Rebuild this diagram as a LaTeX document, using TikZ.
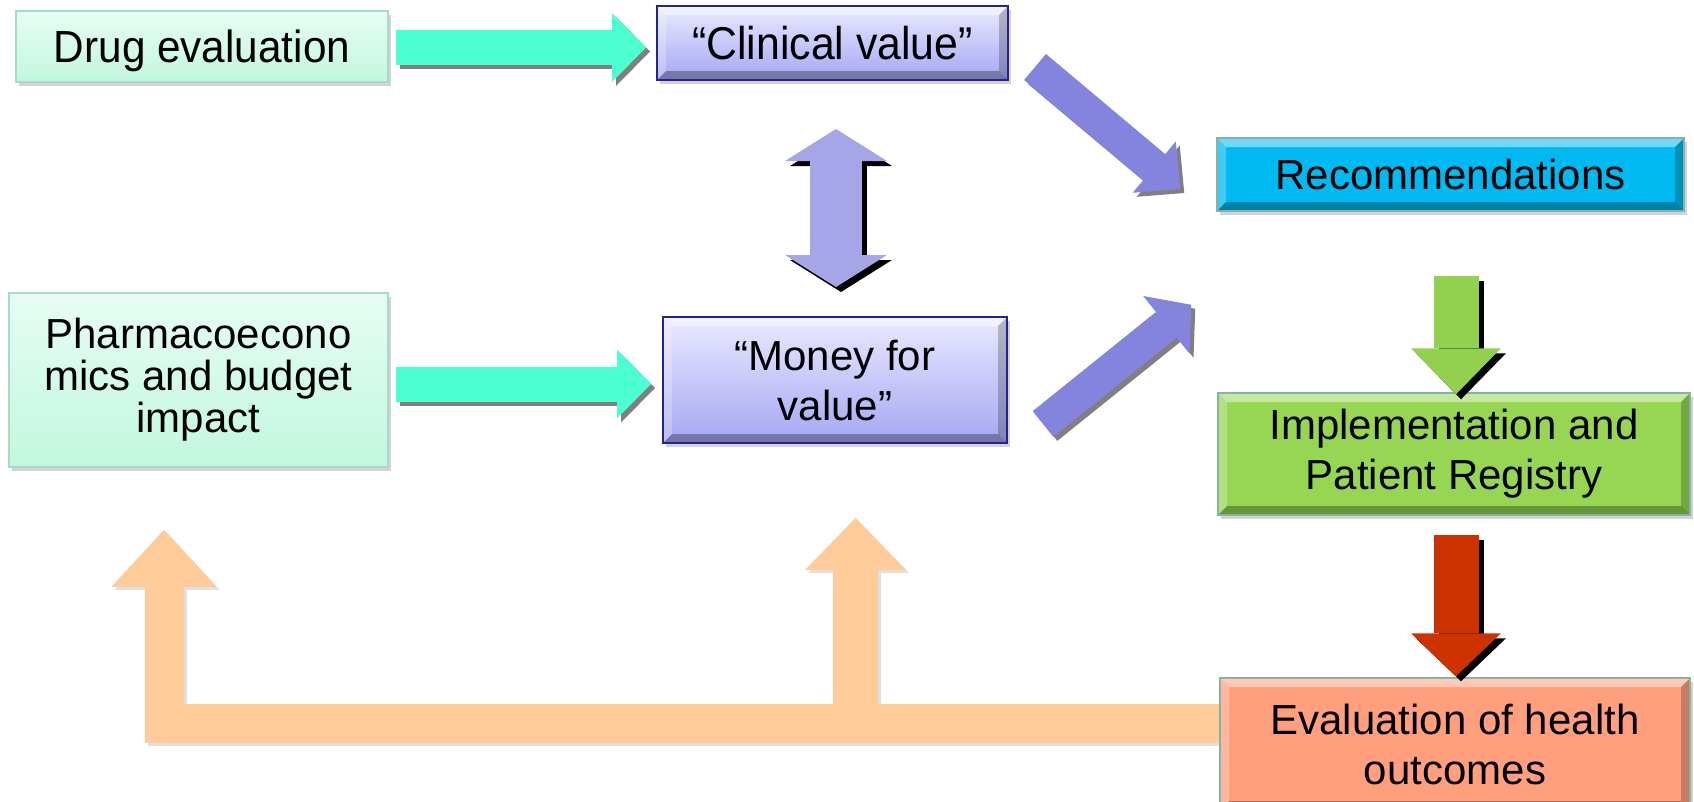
\documentclass[tikz,border=0pt]{standalone}
\usepackage{fontspec}
\setmainfont{Liberation Sans}
\usetikzlibrary{arrows.meta,shadows}

\definecolor{mintTop}{HTML}{E6FDF4}
\definecolor{mintBot}{HTML}{C2F7DF}
\definecolor{mintLine}{HTML}{A6DCC6}
\definecolor{lilacTop}{HTML}{EAEAFF}
\definecolor{lilacBot}{HTML}{A6A6F4}
\definecolor{lilacLine}{HTML}{24248C}
\definecolor{recFill}{HTML}{00B9F1}
\definecolor{implFill}{HTML}{97D653}
\definecolor{evalFill}{HTML}{FF9F7E}
\definecolor{boxLine}{HTML}{86B4A4}
\definecolor{tealArrow}{HTML}{4BFFD1}
\definecolor{violetArrow}{HTML}{8484DE}
\definecolor{paleViolet}{HTML}{A5A5E8}
\definecolor{leafArrow}{HTML}{92D050}
\definecolor{rustArrow}{HTML}{CC3300}
\definecolor{peachArrow}{HTML}{FFCB99}

\tikzset{
  bevel/.style={path picture={
    \path (path picture bounding box.south west) coordinate (sw)
          (path picture bounding box.north east) coordinate (ne)
          (path picture bounding box.north west) coordinate (nw)
          (path picture bounding box.south east) coordinate (se);
    \fill[white,opacity=.45] (nw) -- (ne) -- ([xshift=-9pt,yshift=-9pt]ne) -- ([xshift=9pt,yshift=-9pt]nw) -- cycle;
    \fill[white,opacity=.25] (nw) -- ([xshift=9pt,yshift=-9pt]nw) -- ([xshift=9pt,yshift=9pt]sw) -- (sw) -- cycle;
    \fill[black,opacity=.3] (sw) -- (se) -- ([xshift=-9pt,yshift=9pt]se) -- ([xshift=9pt,yshift=9pt]sw) -- cycle;
    \fill[black,opacity=.22] (ne) -- (se) -- ([xshift=-9pt,yshift=9pt]se) -- ([xshift=-9pt,yshift=-9pt]ne) -- cycle;
  }},
  boxshadow/.style={drop shadow={shadow xshift=3pt,shadow yshift=-4pt,opacity=.35}},
  fat/.style n args={3}{line width=#1,-{Triangle[width=#2,length=#3,line width=0pt]}},
  offset/.style={transform canvas={shift={(#1,-#1)}}},
}

\begin{document}
\begin{tikzpicture}[x=1pt,y=-1pt,
    every node/.style={font=\fontsize{42}{50}\selectfont,inner sep=0pt,align=center},
    mintbox/.style={draw=mintLine,line width=1.5pt,top color=mintTop,bottom color=mintBot,boxshadow},
    lilacbox/.style={draw=lilacLine,line width=2pt,top color=lilacTop,bottom color=lilacBot,bevel,boxshadow},
    flatbox/.style={draw=boxLine,line width=1.5pt,bevel,boxshadow}]
  \useasboundingbox (0,0) rectangle (1694,801);

  % boxes
  \node[mintbox,minimum width=372pt,minimum height=71pt,text depth=0pt,font=\fontsize{45}{50}\selectfont]
    (drug) at (202,46.5) {\scalebox{0.94}[1]{Drug evaluation}};
  \node[lilacbox,minimum width=351pt,minimum height=74pt,text depth=0pt,font=\fontsize{46}{50}\selectfont]
    (clin) at (832.5,43) {\scalebox{0.93}[1]{“Clinical value”}};
  \node[mintbox,minimum width=379pt,minimum height=174pt,font=\fontsize{42}{42}\selectfont]
    (pharma) at (198.5,380) {Pharmacoecono\\mics and budget\\impact};
  \node[lilacbox,minimum width=344pt,minimum height=126pt] (money) at (835,380) {“Money for\\value”};
  \node[flatbox,fill=recFill,minimum width=467pt,minimum height=73pt,text depth=0pt]
    (rec) at (1450.5,174.5) {Recommendations};
  \node[flatbox,fill=implFill,minimum width=472pt,minimum height=122pt]
    (impl) at (1454,454) {Implementation and\\Patient Registry};

  % feedback from outcomes
  \coordinate (back) at (1221,723);
  \coordinate (lefttip) at ([xshift=-34.5pt,yshift=-62pt]pharma.south);
  \coordinate (midtip) at ([xshift=20.5pt,yshift=-74pt]money.south);
  \draw[black!12,offset=3pt,fat={39pt}{105pt}{57pt}] (back) -| (lefttip);
  \draw[black!12,offset=3pt,fat={45pt}{101pt}{52pt}] (midtip |- back) -- (midtip);
  \draw[peachArrow,fat={39pt}{105pt}{57pt}] (back) -| (lefttip);
  \draw[peachArrow,fat={45pt}{101pt}{52pt}] (midtip |- back) -- (midtip);

  \node[flatbox,fill=evalFill,minimum width=470pt,minimum height=132pt]
    (eval) at (1455,744) {Evaluation of health\\outcomes};

  % teal arrows
  \draw[gray,offset=4pt,fat={35pt}{69pt}{34pt}] ([xshift=7pt,yshift=-1pt]drug.east) -- ([xshift=-10pt,yshift=-4.5pt]clin.west);
  \draw[tealArrow,fat={35pt}{69pt}{34pt}] ([xshift=7pt,yshift=-1pt]drug.east) -- ([xshift=-10pt,yshift=-4.5pt]clin.west);
  \draw[gray,offset=4pt,fat={35pt}{69pt}{34pt}] ([xshift=7pt,yshift=-4pt]pharma.east) -- ([xshift=-11pt,yshift=-4pt]money.west);
  \draw[tealArrow,fat={35pt}{69pt}{34pt}] ([xshift=7pt,yshift=-4pt]pharma.east) -- ([xshift=-11pt,yshift=-4pt]money.west);

  % two-way arrow between the values
  \draw[black,offset=5pt,line width=52pt,{Triangle[width=102pt,length=32pt,line width=0pt]}-{Triangle[width=102pt,length=32pt,line width=0pt]}]
    ([xshift=3.5pt,yshift=-48pt]clin.south) -- ([xshift=1pt,yshift=29pt]money.north);
  \draw[paleViolet,line width=52pt,{Triangle[width=102pt,length=32pt,line width=0pt]}-{Triangle[width=102pt,length=32pt,line width=0pt]}]
    ([xshift=3.5pt,yshift=-48pt]clin.south) -- ([xshift=1pt,yshift=29pt]money.north);

  % into recommendations
  \draw[gray,offset=4pt,fat={34pt}{67pt}{34pt}] ([xshift=26pt,yshift=-24pt]clin.east) -- ([xshift=-36pt,yshift=-14.5pt]rec.west);
  \draw[violetArrow,fat={34pt}{67pt}{34pt}] ([xshift=26pt,yshift=-24pt]clin.east) -- ([xshift=-36pt,yshift=-14.5pt]rec.west);
  \draw[gray,offset=4pt,fat={33pt}{74pt}{32pt}] ([xshift=35pt,yshift=-44pt]money.east) -- ([xshift=-25pt,yshift=-93pt]rec.south west);
  \draw[violetArrow,fat={33pt}{74pt}{32pt}] ([xshift=35pt,yshift=-44pt]money.east) -- ([xshift=-25pt,yshift=-93pt]rec.south west);

  % down the right column
  \draw[black,offset=5pt,fat={45pt}{90pt}{46pt}] ([xshift=5.5pt,yshift=-64pt]rec.south) -- ([xshift=2pt,yshift=-2pt]impl.north);
  \draw[leafArrow,fat={45pt}{90pt}{46pt}] ([xshift=5.5pt,yshift=-64pt]rec.south) -- ([xshift=2pt,yshift=-2pt]impl.north);
  \draw[black,offset=5pt,fat={45pt}{90pt}{43pt}] ([xshift=2pt,yshift=-19pt]impl.south) -- ([xshift=1pt,yshift=1pt]eval.north);
  \draw[rustArrow,fat={45pt}{90pt}{43pt}] ([xshift=2pt,yshift=-19pt]impl.south) -- ([xshift=1pt,yshift=1pt]eval.north);
\end{tikzpicture}
\end{document}
